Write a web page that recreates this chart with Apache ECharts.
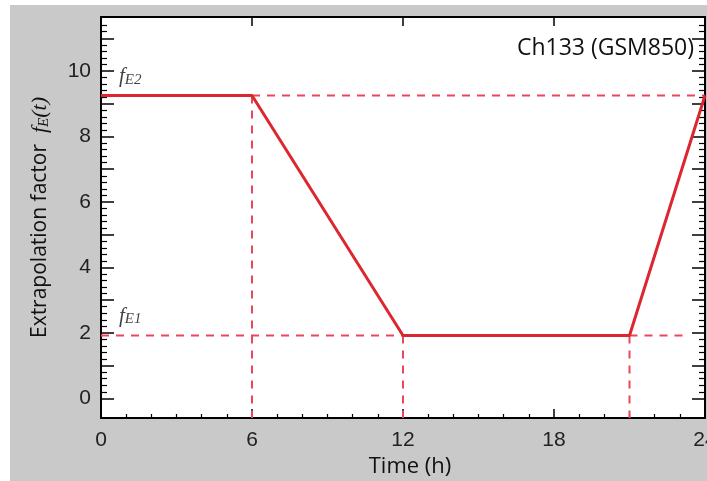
<!DOCTYPE html>
<html>
<head>
<meta charset="utf-8">
<script src="https://cdn.jsdelivr.net/npm/echarts@6/dist/echarts.min.js"></script>
<style>html,body{margin:0;padding:0;background:#fff;}#c{width:707px;height:481px;}</style>
</head>
<body>
<div id="c"></div>
<script>
// ---- data ----
const hours = [0, 6, 12, 21, 24];
const factor = [9.25, 9.25, 1.92, 1.92, 9.25];
const fE2 = 9.25;
const fE1 = 1.92;
const annotNames = ['E2', 'E1'];
const annotValues = [fE2, fE1];
const xTickLabels = [0, 6, 12, 18, 24];
const yTickLabels = [0, 2, 4, 6, 8, 10];
const yMajorTicks = [0, 1, 2, 3, 4, 5, 6, 7, 8, 9, 10, 11];
const yMin = -0.6, yMax = 11.65;
const chartTitle = 'Ch133 (GSM850)';

const yMinorTicks = [];
for (let i = 0; i <= 57; i++) { const v = Math.round((i * 0.2) * 100) / 100; if (Math.abs(v - Math.round(v)) > 1e-6) yMinorTicks.push(v); }

const solid = '#dc2630', dashC = '#e8485c';
const dashStyle = { color: dashC, width: 2, type: [8, 7] };
const black = '#000';

const chart = echarts.init(document.getElementById('c'), null, { renderer: 'canvas' });

const yAxisBase = {
  type: 'value', min: yMin, max: yMax, gridIndex: 0,
  splitLine: { show: false }, minorTick: { show: false }
};

const option = {
  backgroundColor: '#c9c9c9',
  animation: false,
  graphic: [
    { type: 'rect', left: 0, top: 0, shape: { width: 707, height: 5 }, style: { fill: '#fff' } },
    { type: 'rect', left: 0, top: 0, shape: { width: 10, height: 481 }, style: { fill: '#fff' } }
  ],
  title: {
    text: chartTitle, right: 8, top: 32,
    textStyle: { fontFamily: 'Open Sans', fontSize: 23, fontWeight: 'normal', color: '#111' }
  },
  grid: { left: 101, top: 17, right: 2, bottom: 63, show: true, backgroundColor: '#fff', borderWidth: 0,
    containLabel: false, outerBoundsMode: 'none' },
  xAxis: [
    {
      type: 'value', min: 0, max: 24, interval: 6, position: 'bottom',
      axisLine: { show: true, onZero: false, lineStyle: { color: black, width: 2 } },
      axisTick: { show: true, inside: true, length: 9, lineStyle: { color: black, width: 1.5 } },
      minorTick: { show: true, splitNumber: 6, length: 4, lineStyle: { color: black, width: 1.2 } },
      splitLine: { show: false }, minorSplitLine: { show: false },
      axisLabel: { fontFamily: 'Liberation Sans', fontSize: 21, color: '#222', margin: 12,
        formatter: v => xTickLabels.includes(v) ? String(v) : '' },
      name: 'Time (h)', nameLocation: 'middle', nameGap: 33,
      nameTextStyle: { fontFamily: 'Open Sans', fontSize: 22, color: '#111', padding: [0, 0, 0, 14] }
    },
    {
      type: 'value', min: 0, max: 24, interval: 6, position: 'top',
      axisLine: { show: true, onZero: false, lineStyle: { color: black, width: 2 } },
      axisTick: { show: true, inside: true, length: 9, lineStyle: { color: black, width: 1.5 } },
      axisLabel: { show: false }, splitLine: { show: false }
    }
  ],
  yAxis: [
    Object.assign({}, yAxisBase, {
      position: 'left',
      axisLine: { show: true, onZero: false, lineStyle: { color: black, width: 2 } },
      axisTick: { show: true, inside: true, length: 13, customValues: yMajorTicks, lineStyle: { color: black, width: 1.5 } },
      axisLabel: { customValues: yTickLabels, fontFamily: 'Liberation Sans', fontSize: 21, color: '#222', margin: 10 },
      name: 'Extrapolation factor  {it|f}{sub|E}{it|(t)}',
      nameLocation: 'middle', nameRotate: 90, nameGap: 49,
      nameTextStyle: {
        fontFamily: 'Open Sans', fontSize: 21, color: '#111',
        rich: {
          it: { fontFamily: 'Liberation Serif', fontStyle: 'italic', fontSize: 22, color: '#111' },
          sub: { fontFamily: 'Liberation Serif', fontStyle: 'italic', fontSize: 15, color: '#111', verticalAlign: 'bottom', padding: [8, 0, 0, 0] }
        }
      }
    }),
    Object.assign({}, yAxisBase, {
      position: 'left',
      axisLine: { show: false, onZero: false },
      axisTick: { show: true, inside: true, length: 6, customValues: yMinorTicks, lineStyle: { color: black, width: 1.2 } },
      axisLabel: { show: false }
    }),
    Object.assign({}, yAxisBase, {
      position: 'right',
      axisLine: { show: true, onZero: false, lineStyle: { color: black, width: 2 } },
      axisTick: { show: true, inside: true, length: 13, customValues: yMajorTicks, lineStyle: { color: black, width: 1.5 } },
      axisLabel: { show: false }
    }),
    Object.assign({}, yAxisBase, {
      position: 'right',
      axisLine: { show: false, onZero: false },
      axisTick: { show: true, inside: true, length: 6, customValues: yMinorTicks, lineStyle: { color: black, width: 1.2 } },
      axisLabel: { show: false }
    })
  ],
  series: [
    { type: 'line', data: [[hours[1], fE2], [hours[4], fE2]], symbol: 'none', lineStyle: dashStyle, z: 1, silent: true },
    { type: 'line', data: [[hours[0], fE1], [hours[2], fE1]], symbol: 'none', lineStyle: dashStyle, z: 1, silent: true },
    { type: 'line', data: [[hours[3], fE1], [23.3, fE1]], symbol: 'none', lineStyle: dashStyle, z: 1, silent: true },
    { type: 'line', data: [[hours[1], fE2], [hours[1], yMin]], symbol: 'none', lineStyle: dashStyle, z: 1, silent: true },
    { type: 'line', data: [[hours[2], fE1], [hours[2], yMin]], symbol: 'none', lineStyle: dashStyle, z: 1, silent: true },
    { type: 'line', data: [[hours[3], fE1], [hours[3], yMin]], symbol: 'none', lineStyle: dashStyle, z: 1, silent: true },
    { type: 'line', data: hours.map((h, i) => [h, factor[i]]), symbol: 'none', lineStyle: { color: solid, width: 3 }, z: 3 },
    {
      type: 'scatter', symbolSize: 0, silent: true, z: 4,
      data: annotNames.map((n, i) => [0, annotValues[i], n]),
      label: {
        show: true, position: 'right', distance: 0, offset: [18, -19],
        formatter: p => '{f|f}{s|' + p.value[2] + '}',
        rich: {
          f: { fontFamily: 'Liberation Serif', fontStyle: 'italic', fontSize: 21, color: '#111' },
          s: { fontFamily: 'Liberation Serif', fontStyle: 'italic', fontSize: 15, color: '#111', verticalAlign: 'bottom', padding: [6, 0, 0, 0] }
        }
      }
    }
  ]
};
chart.setOption(option);
</script>
</body>
</html>
